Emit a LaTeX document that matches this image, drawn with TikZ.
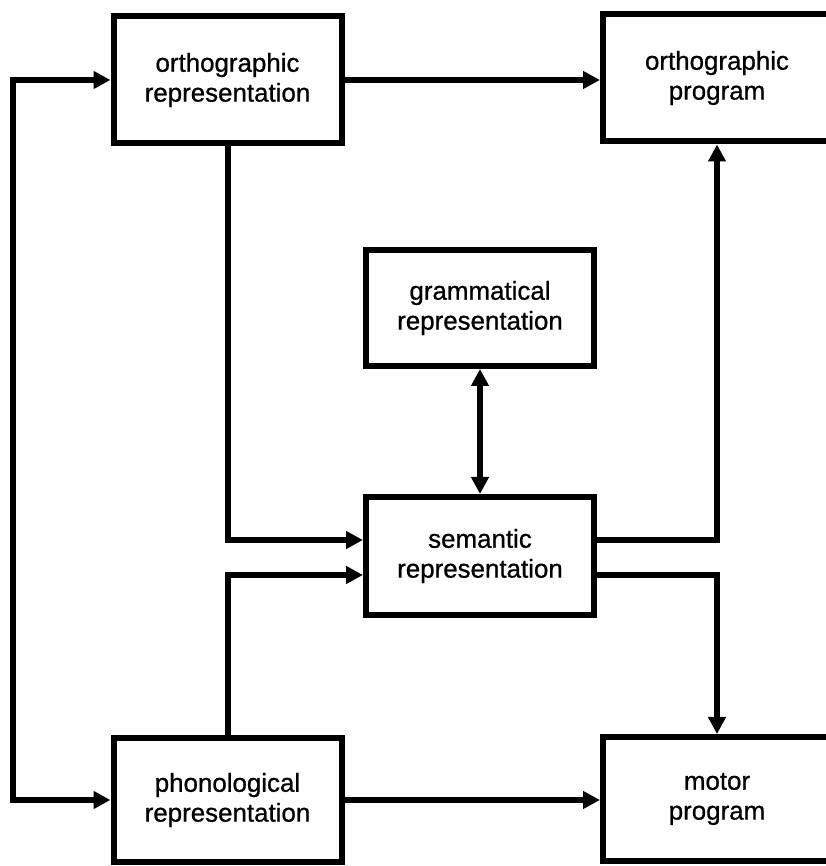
\documentclass[tikz,border=0pt]{standalone}
\usepackage{fontspec}
\setmainfont{Liberation Sans}
\newfontfamily\boxfont{Liberation Sans}[FakeBold=0.8]
\usetikzlibrary{arrows.meta}
\tikzset{
  box/.style={draw, line width=6bp, rectangle, inner sep=0pt, minimum width=228bp,
    align=center, font=\boxfont\fontsize{26}{30}\selectfont},
}
\begin{document}
\begin{tikzpicture}[>={Triangle[length=17bp,width=17bp]},line join=miter]
  \useasboundingbox (0bp,0bp) rectangle (826bp,866bp);
  \pgfsetlinewidth{6bp}
%%
  % Node: orthrep
  \node [box, minimum height=127bp] (orthrep) at (227.5bp,786bp) {orthographic\\representation};
  % Node: orthprog
  \node [box, minimum height=127bp] (orthprog) at (717bp,788bp) {orthographic\\program};
  % Node: gram
  \node [box, minimum height=116bp] (gram) at (480bp,558bp) {grammatical\\representation};
  % Node: sem
  \node [box, minimum height=118bp] (sem) at (480bp,310bp) {semantic\\representation};
  % Node: phon
  \node [box, minimum height=124bp] (phon) at (227.5bp,66bp) {phonological\\representation};
  % Node: motor
  \node [box, minimum height=124bp] (motor) at (717bp,67bp) {motor\\program};
  \coordinate (lft) at (13bp,433bp);
%
  % Edge: orthrep -> orthprog
  \draw [->] (orthrep.east) -- (orthrep.east -| orthprog.west);
  % Edge: orthrep <-> phon
  \draw [<->] (orthrep.west) -- (orthrep.west -| lft) -- (phon.west -| lft) -- (phon.west);
  % Edge: orthrep -> sem
  \draw [->] (orthrep.south) |- ([yshift=16bp]sem.west);
  % Edge: phon -> sem
  \draw [->] (phon.north) |- ([yshift=-19bp]sem.west);
  % Edge: sem -> orthprog
  \draw [->] ([yshift=16bp]sem.east) -| (orthprog.south);
  % Edge: sem -> motor
  \draw [->] ([yshift=-19bp]sem.east) -| (motor.north);
  % Edge: gram <-> sem
  \draw [<->] (gram.south) -- (sem.north);
  % Edge: phon -> motor
  \draw [->] (phon.east) -- (phon.east -| motor.west);
%
\end{tikzpicture}
\end{document}
